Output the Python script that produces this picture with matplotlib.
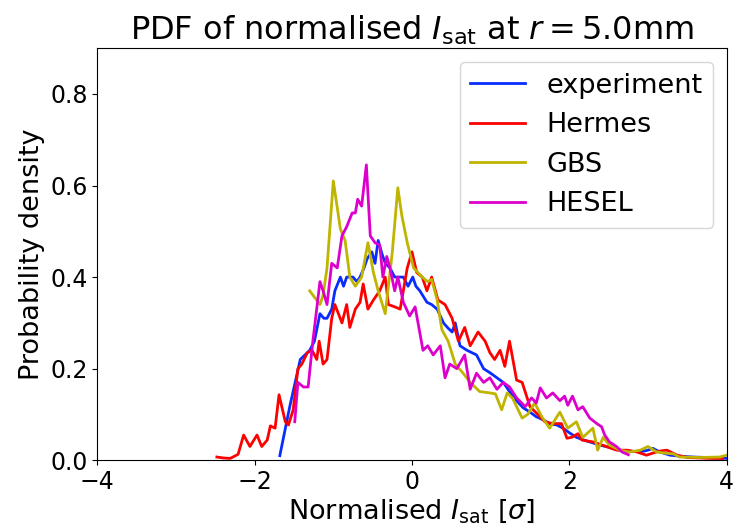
import matplotlib
matplotlib.use('Agg')
import matplotlib.pyplot as plt

# experiment
exp_x = [-1.68, -1.55, -1.42, -1.36, -1.30, -1.24, -1.17, -1.12, -1.08, -1.02, -0.98, -0.91,
         -0.87, -0.83, -0.75, -0.70, -0.66, -0.61, -0.57, -0.51, -0.47, -0.43, -0.38, -0.34,
         -0.28, -0.22, -0.16, -0.11, -0.05, 0.01, 0.05, 0.10, 0.19, 0.25, 0.32, 0.40, 0.45,
         0.51, 0.55, 0.61, 0.70, 0.76, 0.82, 0.91, 1.00, 1.08, 1.16, 1.24, 1.33, 1.41, 1.50,
         1.58, 1.67, 1.75, 1.84, 1.92, 2.00, 2.09, 2.17, 2.26, 2.39, 2.51, 2.64, 2.77, 2.90,
         3.00, 3.06, 3.15, 3.28, 3.40, 3.57, 3.75, 3.90, 4.00]
exp_y = [0.01, 0.12, 0.22, 0.23, 0.24, 0.26, 0.32, 0.31, 0.31, 0.33, 0.37, 0.40,
         0.38, 0.40, 0.40, 0.39, 0.40, 0.42, 0.44, 0.455, 0.43, 0.48, 0.45, 0.43,
         0.42, 0.40, 0.40, 0.40, 0.38, 0.40, 0.38, 0.37, 0.345, 0.34, 0.33, 0.30, 0.29,
         0.28, 0.30, 0.25, 0.24, 0.235, 0.23, 0.20, 0.19, 0.18, 0.17, 0.15, 0.13, 0.115, 0.105,
         0.095, 0.088, 0.08, 0.077, 0.07, 0.06, 0.05, 0.045, 0.04, 0.033, 0.028, 0.022, 0.02, 0.018,
         0.022, 0.026, 0.018, 0.011, 0.009, 0.007, 0.006, 0.005, 0.004]

# Hermes
her_x = [-2.48, -2.40, -2.31, -2.21, -2.14, -2.06, -1.97, -1.91, -1.84, -1.80, -1.74, -1.69,
         -1.61, -1.57, -1.51, -1.45, -1.40, -1.33, -1.27, -1.21, -1.18, -1.13, -1.08, -1.02,
         -0.98, -0.89, -0.83, -0.79, -0.72, -0.66, -0.62, -0.56, -0.49, -0.41, -0.34, -0.30,
         -0.22, -0.15, -0.06, 0.00, 0.06, 0.13, 0.19, 0.25, 0.33, 0.42, 0.51, 0.59, 0.67, 0.74,
         0.84, 0.93, 0.99, 1.05, 1.12, 1.18, 1.24, 1.33, 1.40, 1.50, 1.60, 1.69, 1.79, 1.90,
         1.97, 2.03, 2.11, 2.16, 2.30, 2.47, 2.60, 2.73, 2.86, 2.98, 3.07, 3.15, 3.24, 3.37,
         3.50, 3.65, 3.80, 3.95]
her_y = [0.007, 0.005, 0.004, 0.013, 0.055, 0.03, 0.055, 0.03, 0.044, 0.075, 0.07, 0.143,
         0.084, 0.077, 0.11, 0.20, 0.21, 0.235, 0.24, 0.22, 0.26, 0.21, 0.22, 0.31,
         0.34, 0.30, 0.34, 0.29, 0.33, 0.345, 0.385, 0.33, 0.35, 0.37, 0.40, 0.34,
         0.335, 0.33, 0.42, 0.455, 0.41, 0.40, 0.37, 0.40, 0.35, 0.34, 0.31, 0.26, 0.29, 0.25,
         0.28, 0.26, 0.235, 0.22, 0.24, 0.205, 0.26, 0.175, 0.17, 0.117, 0.10, 0.084, 0.08, 0.08,
         0.048, 0.05, 0.058, 0.044, 0.04, 0.03, 0.022, 0.022, 0.018, 0.011, 0.016, 0.02, 0.022, 0.011,
         0.006, 0.005, 0.004, 0.004]

# GBS
gbs_x = [-1.30, -1.17, -1.13, -1.08, -1.00, -0.91, -0.85, -0.79, -0.72, -0.64, -0.56, -0.49,
         -0.43, -0.34, -0.25, -0.18, -0.13, -0.06, 0.02, 0.13, 0.20, 0.25, 0.32, 0.38, 0.46,
         0.55, 0.65, 0.74, 0.86, 0.99, 1.06, 1.14, 1.21, 1.28, 1.40, 1.47, 1.56, 1.65, 1.75,
         1.88, 1.98, 2.09, 2.17, 2.30, 2.36, 2.43, 2.51, 2.64, 2.77, 2.90, 3.00, 3.11, 3.24,
         3.32, 3.40, 3.66, 3.91, 4.00]
gbs_y = [0.37, 0.34, 0.36, 0.42, 0.61, 0.505, 0.48, 0.40, 0.38, 0.40, 0.475, 0.41,
         0.37, 0.32, 0.455, 0.595, 0.535, 0.475, 0.42, 0.40, 0.39, 0.395, 0.35, 0.285, 0.26,
         0.21, 0.19, 0.17, 0.15, 0.147, 0.145, 0.11, 0.147, 0.135, 0.092, 0.10, 0.125, 0.095, 0.07,
         0.105, 0.07, 0.084, 0.05, 0.07, 0.022, 0.05, 0.033, 0.022, 0.018, 0.022, 0.03, 0.018, 0.015,
         0.014, 0.007, 0.006, 0.007, 0.011]

# HESEL
hes_x = [-1.49, -1.45, -1.38, -1.32, -1.26, -1.17, -1.13, -1.08, -1.02, -0.95, -0.89, -0.83,
         -0.76, -0.72, -0.69, -0.64, -0.58, -0.53, -0.47, -0.41, -0.37, -0.32, -0.28, -0.22,
         -0.18, -0.11, -0.03, 0.04, 0.14, 0.20, 0.27, 0.36, 0.42, 0.48, 0.57, 0.67, 0.74, 0.82,
         0.91, 0.99, 1.08, 1.16, 1.24, 1.33, 1.44, 1.52, 1.58, 1.63, 1.71, 1.79, 1.88, 1.94,
         1.98, 2.04, 2.11, 2.17, 2.26, 2.35, 2.41, 2.45, 2.51, 2.60, 2.67, 2.75]
hes_y = [0.084, 0.17, 0.16, 0.16, 0.26, 0.39, 0.37, 0.34, 0.43, 0.42, 0.49, 0.51,
         0.54, 0.54, 0.57, 0.555, 0.645, 0.49, 0.475, 0.47, 0.40, 0.445, 0.42, 0.37,
         0.40, 0.345, 0.315, 0.335, 0.24, 0.25, 0.23, 0.25, 0.18, 0.21, 0.20, 0.23, 0.155, 0.19,
         0.17, 0.18, 0.155, 0.17, 0.16, 0.136, 0.117, 0.136, 0.125, 0.158, 0.136, 0.147, 0.13, 0.14,
         0.12, 0.14, 0.11, 0.117, 0.092, 0.08, 0.073, 0.055, 0.04, 0.03, 0.018, 0.012]

plt.rcParams.update({'font.size': 17})

fig = plt.figure(figsize=(7.37, 5.29), dpi=100)
ax = fig.add_subplot(111)
ax.plot(exp_x, exp_y, color='#0a2dff', lw=2, label='experiment')
ax.plot(her_x, her_y, color='#ff0000', lw=2, label='Hermes')
ax.plot(gbs_x, gbs_y, color='#bfb400', lw=2, label='GBS')
ax.plot(hes_x, hes_y, color='#dd00cc', lw=2, label='HESEL')

ax.set_xlim(-4, 4)
ax.set_ylim(0, 0.9)
ax.set_xticks([-4, -2, 0, 2, 4])
ax.set_yticks([0.0, 0.2, 0.4, 0.6, 0.8])
ax.set_xlabel(r'Normalised $I_{\rm sat}$ [$\sigma$]', fontsize=19.5, labelpad=2)
ax.set_ylabel('Probability density', fontsize=19.5)
ax.set_title(r'PDF of normalised $I_{\rm sat}$ at $r = 5.0$mm', fontsize=23)
leg = ax.legend(loc='upper right', fontsize=19.5)

plt.subplots_adjust(left=0.132, right=0.986, top=0.909, bottom=0.130)
fig.savefig('out.png')
